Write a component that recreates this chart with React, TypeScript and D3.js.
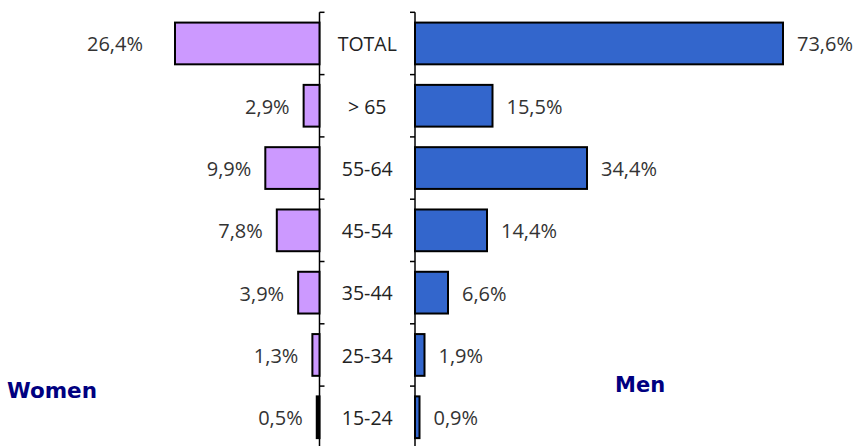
import { useEffect, useRef } from 'react';
import * as d3 from 'd3';

const categories = ['TOTAL', '> 65', '55-64', '45-54', '35-44', '25-34', '15-24'];
const women = [26.4, 2.9, 9.9, 7.8, 3.9, 1.3, 0.5];
const men = [73.6, 15.5, 34.4, 14.4, 6.6, 1.9, 0.9];
const seriesNames = ['Women', 'Men'];

const fmt = (v: number) => v.toFixed(1).replace('.', ',') + '%';

const App = () => {
  const chartRef = useRef<HTMLDivElement>(null);

  useEffect(() => {
    drawChart();
  }, []);

  const drawChart = () => {
    const width = 858;
    const height = 446;
    const leftAxis = 319.5;
    const rightAxis = 415;
    const font = '"Open Sans", sans-serif';

    d3.select(chartRef.current).selectAll('*').remove();

    const svg = d3.select(chartRef.current)
      .append('svg')
      .attr('width', width)
      .attr('height', height)
      .style('position', 'absolute')
      .style('left', 0)
      .style('top', 0)
      .style('background', '#fff');

    const y = d3.scaleBand<string>()
      .domain(categories)
      .range([12.3, 448.4])
      .paddingInner(0.33)
      .paddingOuter(0.165);

    // separate scales for each side, as in the original
    const xW = d3.scaleLinear().domain([0, 26.4]).range([leftAxis, 175]);
    const xM = d3.scaleLinear().domain([0, 73.6]).range([rightAxis, 783]);

    // axis lines with inward ticks at band edges
    const y0 = y.range()[0];
    const edges = d3.range(categories.length + 1).map(i => y0 + i * y.step());
    [leftAxis, rightAxis].forEach((ax, side) => {
      svg.append('line')
        .attr('x1', ax).attr('x2', ax)
        .attr('y1', y0).attr('y2', height)
        .attr('stroke', '#000').attr('stroke-width', 1.5);
      svg.selectAll(null)
        .data(edges)
        .enter().append('line')
        .attr('x1', ax)
        .attr('x2', side === 0 ? ax + 5 : ax - 5)
        .attr('y1', d => d).attr('y2', d => d)
        .attr('stroke', '#000').attr('stroke-width', 1.5);
    });

    // women bars
    svg.selectAll('.wbar')
      .data(women)
      .enter().append('rect')
      .attr('class', 'wbar')
      .attr('x', d => xW(d))
      .attr('y', (d, i) => y(categories[i])!)
      .attr('width', d => leftAxis - xW(d))
      .attr('height', y.bandwidth())
      .attr('fill', d => (leftAxis - xW(d) < 4 ? '#000' : '#CC99FF'))
      .attr('stroke', '#000')
      .attr('stroke-width', 2);

    // men bars
    svg.selectAll('.mbar')
      .data(men)
      .enter().append('rect')
      .attr('class', 'mbar')
      .attr('x', rightAxis)
      .attr('y', (d, i) => y(categories[i])!)
      .attr('width', d => xM(d) - rightAxis)
      .attr('height', y.bandwidth())
      .attr('fill', '#3366CC')
      .attr('stroke', '#000')
      .attr('stroke-width', 2);

    const mid = (i: number) => y(categories[i])! + y.bandwidth() / 2 + 1;

    svg.selectAll('.wlab')
      .data(women)
      .enter().append('text')
      .attr('x', (d, i) => xW(d) - (i === 0 ? 32 : 14))
      .attr('y', (d, i) => mid(i))
      .attr('dy', '0.35em')
      .attr('text-anchor', 'end')
      .style('font-family', font)
      .style('font-size', '20px')
      .attr('fill', '#333')
      .text(d => fmt(d));

    svg.selectAll('.mlab')
      .data(men)
      .enter().append('text')
      .attr('x', d => xM(d) + 14)
      .attr('y', (d, i) => mid(i))
      .attr('dy', '0.35em')
      .style('font-family', font)
      .style('font-size', '20px')
      .attr('fill', '#333')
      .text(d => fmt(d));

    svg.selectAll('.cat')
      .data(categories)
      .enter().append('text')
      .attr('x', (leftAxis + rightAxis) / 2)
      .attr('y', d => y(d)! + y.bandwidth() / 2 + 1)
      .attr('dy', '0.35em')
      .attr('text-anchor', 'middle')
      .style('font-family', font)
      .style('font-size', '19.5px')
      .attr('fill', '#222')
      .text(d => d);

    svg.append('text')
      .attr('x', 7).attr('y', 398)
      .style('font-family', '"DejaVu Sans", sans-serif')
      .style('font-weight', 'bold')
      .style('font-size', '21.5px')
      .attr('fill', '#000080')
      .text(seriesNames[0]);

    svg.append('text')
      .attr('x', 615).attr('y', 392)
      .style('font-family', '"DejaVu Sans", sans-serif')
      .style('font-weight', 'bold')
      .style('font-size', '21px')
      .attr('fill', '#000080')
      .text(seriesNames[1]);
  };

  return <div ref={chartRef}></div>;
};

export default App;
